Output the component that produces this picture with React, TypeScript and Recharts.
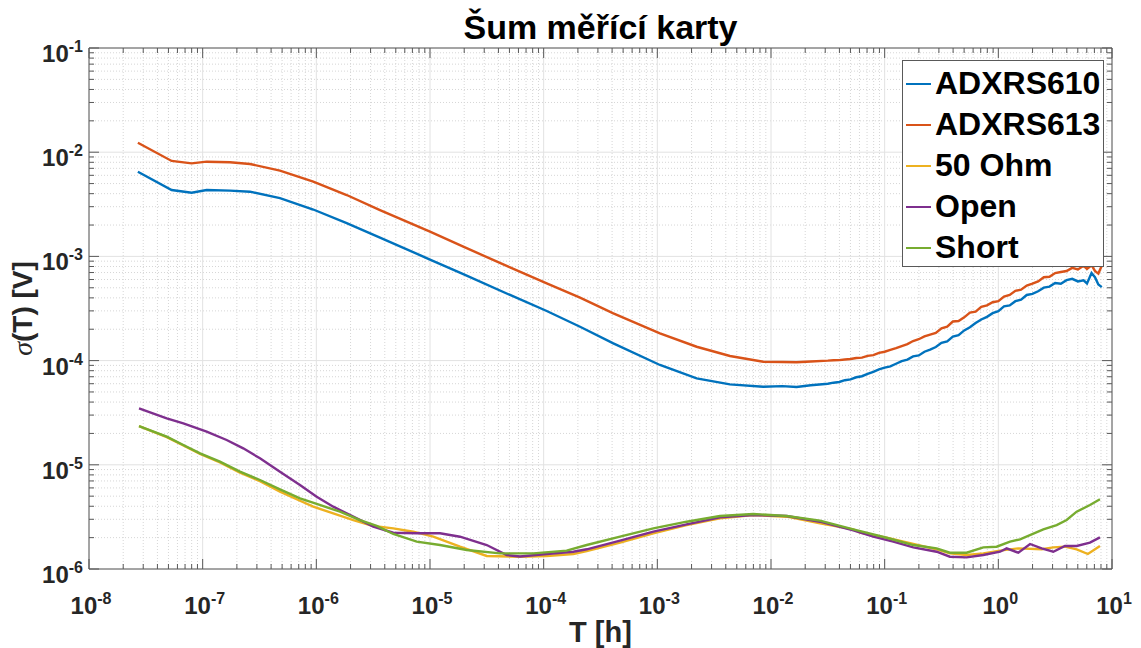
import React from 'react';
import { LineChart, Line, XAxis, YAxis, CartesianGrid, ReferenceArea } from 'recharts';

// ---------- data (log10 of T [h] and log10 of sigma [V]) ----------
const adxrs610LogT = [-7.57, -7.273, -7.097, -6.965, -6.76, -6.584, -6.32, -6.027, -5.733, -5.44, -5.0, -4.707, -4.296, -3.973, -3.68, -3.387, -2.977, -2.654, -2.361, -2.068, -1.9, -1.775, -1.65, -1.5, -1.45, -1.4, -1.35, -1.3, -1.25, -1.2, -1.15, -1.1, -1.05, -1.0, -0.95, -0.9, -0.85, -0.8, -0.75, -0.7, -0.65, -0.6, -0.55, -0.5, -0.45, -0.4, -0.35, -0.3, -0.25, -0.2, -0.15, -0.1, -0.05, 0.0, 0.05, 0.1, 0.15, 0.2, 0.25, 0.3, 0.35, 0.4, 0.45, 0.5, 0.55, 0.6, 0.65, 0.7, 0.75, 0.78, 0.82, 0.85, 0.88, 0.91];
const adxrs610LogV = [-2.187, -2.363, -2.389, -2.363, -2.369, -2.379, -2.44, -2.55, -2.68, -2.82, -3.03, -3.17, -3.37, -3.524, -3.675, -3.834, -4.042, -4.17, -4.228, -4.251, -4.245, -4.253, -4.236, -4.222, -4.212, -4.205, -4.188, -4.18, -4.16, -4.15, -4.128, -4.108, -4.085, -4.068, -4.055, -4.03, -4.005, -3.99, -3.96, -3.95, -3.915, -3.895, -3.87, -3.83, -3.815, -3.77, -3.755, -3.71, -3.68, -3.64, -3.605, -3.58, -3.545, -3.525, -3.48, -3.47, -3.43, -3.415, -3.37, -3.36, -3.335, -3.3, -3.29, -3.255, -3.262, -3.228, -3.215, -3.24, -3.23, -3.26, -3.16, -3.2, -3.27, -3.295];

const adxrs613LogT = [-7.57, -7.273, -7.097, -6.965, -6.76, -6.584, -6.32, -6.027, -5.733, -5.44, -5.0, -4.707, -4.296, -3.973, -3.68, -3.387, -2.977, -2.654, -2.361, -2.068, -1.9, -1.775, -1.65, -1.5, -1.45, -1.4, -1.35, -1.3, -1.25, -1.2, -1.15, -1.1, -1.05, -1.0, -0.95, -0.9, -0.85, -0.8, -0.75, -0.7, -0.65, -0.6, -0.55, -0.5, -0.45, -0.4, -0.35, -0.3, -0.25, -0.2, -0.15, -0.1, -0.05, 0.0, 0.05, 0.1, 0.15, 0.2, 0.25, 0.3, 0.35, 0.4, 0.45, 0.5, 0.55, 0.6, 0.65, 0.7, 0.75, 0.78, 0.82, 0.85, 0.88, 0.91];
const adxrs613LogV = [-1.909, -2.084, -2.107, -2.091, -2.097, -2.113, -2.177, -2.283, -2.411, -2.555, -2.763, -2.907, -3.105, -3.258, -3.396, -3.546, -3.738, -3.867, -3.956, -4.011, -4.014, -4.016, -4.008, -4.0, -3.996, -3.995, -3.99, -3.985, -3.975, -3.972, -3.955, -3.948, -3.925, -3.915, -3.898, -3.88, -3.86, -3.842, -3.812, -3.795, -3.768, -3.75, -3.735, -3.69, -3.675, -3.625, -3.62, -3.585, -3.54, -3.53, -3.485, -3.47, -3.44, -3.43, -3.385, -3.37, -3.33, -3.32, -3.28, -3.262, -3.24, -3.2, -3.195, -3.16, -3.15, -3.14, -3.11, -3.125, -3.09, -3.12, -3.085, -3.14, -3.165, -3.09];

const ohm50LogT = [-7.56, -7.316, -7.17, -7.023, -6.848, -6.672, -6.496, -6.32, -6.144, -6.027, -5.851, -5.675, -5.499, -5.323, -5.147, -4.971, -4.736, -4.501, -4.208, -3.973, -3.739, -3.621, -3.328, -3.035, -2.742, -2.449, -2.156, -1.862, -1.569, -1.276, -1.217, -0.983, -0.748, -0.543, -0.426, -0.279, -0.132, 0.015, 0.176, 0.381, 0.484, 0.586, 0.689, 0.788, 0.894];
const ohm50LogV = [-4.628, -4.735, -4.815, -4.895, -4.978, -5.075, -5.158, -5.258, -5.345, -5.402, -5.466, -5.53, -5.587, -5.61, -5.642, -5.69, -5.786, -5.875, -5.882, -5.875, -5.856, -5.827, -5.747, -5.657, -5.578, -5.514, -5.482, -5.498, -5.562, -5.619, -5.651, -5.7, -5.76, -5.811, -5.85, -5.866, -5.85, -5.824, -5.802, -5.811, -5.792, -5.786, -5.811, -5.856, -5.779];

const openLogT = [-7.56, -7.316, -7.17, -6.965, -6.789, -6.643, -6.496, -6.32, -6.144, -5.997, -5.851, -5.675, -5.499, -5.323, -5.117, -4.912, -4.736, -4.501, -4.325, -4.208, -3.973, -3.739, -3.621, -3.328, -3.035, -2.742, -2.449, -2.156, -1.862, -1.569, -1.276, -1.1, -0.924, -0.748, -0.543, -0.426, -0.279, -0.132, 0.015, 0.073, 0.176, 0.279, 0.381, 0.484, 0.586, 0.689, 0.806, 0.894];
const openLogV = [-4.458, -4.554, -4.602, -4.682, -4.762, -4.842, -4.938, -5.066, -5.194, -5.306, -5.402, -5.498, -5.594, -5.652, -5.657, -5.657, -5.69, -5.77, -5.866, -5.88, -5.856, -5.834, -5.811, -5.728, -5.642, -5.571, -5.504, -5.482, -5.491, -5.546, -5.63, -5.69, -5.738, -5.792, -5.834, -5.882, -5.888, -5.866, -5.834, -5.802, -5.844, -5.76, -5.802, -5.834, -5.779, -5.779, -5.747, -5.696];

const shortLogT = [-7.56, -7.316, -7.17, -7.023, -6.848, -6.672, -6.496, -6.32, -6.144, -5.997, -5.792, -5.616, -5.469, -5.323, -5.117, -4.912, -4.677, -4.384, -4.091, -3.798, -3.621, -3.328, -3.035, -2.742, -2.449, -2.156, -1.862, -1.569, -1.276, -0.983, -0.748, -0.543, -0.426, -0.279, -0.132, -0.015, 0.103, 0.191, 0.396, 0.513, 0.601, 0.689, 0.806, 0.894];
const shortLogV = [-4.628, -4.73, -4.81, -4.89, -4.97, -5.066, -5.146, -5.235, -5.322, -5.376, -5.45, -5.53, -5.587, -5.664, -5.738, -5.77, -5.818, -5.85, -5.85, -5.824, -5.77, -5.69, -5.61, -5.546, -5.491, -5.472, -5.491, -5.536, -5.619, -5.7, -5.77, -5.802, -5.844, -5.844, -5.792, -5.786, -5.738, -5.715, -5.619, -5.578, -5.53, -5.45, -5.386, -5.331];

const seriesNames = ['ADXRS610', 'ADXRS613', '50 Ohm', 'Open', 'Short'];
const seriesColors = ['#0072BD', '#D95319', '#EDB120', '#7E2F8E', '#77AC30'];

// axis decades (exponents) and minor multipliers
const xDecades = [-8, -7, -6, -5, -4, -3, -2, -1, 0, 1];
const yDecades = [-6, -5, -4, -3, -2, -1];
const minorMult = [2, 3, 4, 5, 6, 7, 8, 9];

const toPoints = (lt: number[], lv: number[]) => lt.map((x, i) => ({ t: Math.pow(10, x), v: Math.pow(10, lv[i]) }));
const seriesData = [
  toPoints(adxrs610LogT, adxrs610LogV),
  toPoints(adxrs613LogT, adxrs613LogV),
  toPoints(ohm50LogT, ohm50LogV),
  toPoints(openLogT, openLogV),
  toPoints(shortLogT, shortLogV),
];

const xMajor = xDecades.map((e) => Number(`1e${e}`));
const xMinor = xDecades.slice(0, -1).flatMap((e) => minorMult.map((m) => Number(`${m}e${e}`)));
const yMajor = yDecades.map((e) => Number(`1e${e}`));
const yMinor = yDecades.slice(0, -1).flatMap((e) => minorMult.map((m) => Number(`${m}e${e}`)));
const xTicks = [...xMajor, ...xMinor].sort((a, b) => a - b);
const yTicks = [...yMajor, ...yMinor].sort((a, b) => a - b);
const xMajorSet = new Set(xMajor);
const yMajorSet = new Set(yMajor);

// ---------- layout ----------
const W = 1133;
const H = 640;
const PL = 81;
const PT = 40;
const PR = 1104;
const PB = 561;
const FONT = '"Liberation Sans", Arial, Helvetica, sans-serif';
const AXIS = '#262626';
const BOX = '#595959';
const TICK_FS = 24;
const SUP_FS = 16;

const XTick = (props: any) => {
  const { x, payload } = props;
  const v = payload.value;
  const major = xMajorSet.has(v);
  const len = major ? 10 : 5;
  const e = Math.round(Math.log10(v));
  return (
    <g>
      <line x1={x} x2={x} y1={PB} y2={PB - len} stroke={BOX} strokeWidth={1} />
      <line x1={x} x2={x} y1={PT} y2={PT + len} stroke={BOX} strokeWidth={1} />
      {major && (
        <text x={x + 2} y={PB + 45} textAnchor="middle" fontFamily={FONT} fontWeight="bold" fontSize={TICK_FS} fill={AXIS}>
          10<tspan dy={-10} fontSize={SUP_FS}>{e}</tspan>
        </text>
      )}
    </g>
  );
};

const YTick = (props: any) => {
  const { y, payload } = props;
  const v = payload.value;
  const major = yMajorSet.has(v);
  const len = major ? 10 : 5;
  const e = Math.round(Math.log10(v));
  return (
    <g>
      <line x1={PL} x2={PL + len} y1={y} y2={y} stroke={BOX} strokeWidth={1} />
      <line x1={PR} x2={PR - len} y1={y} y2={y} stroke={BOX} strokeWidth={1} />
      {major && (
        <text x={PL - 6} y={y + 14} textAnchor="end" fontFamily={FONT} fontWeight="bold" fontSize={TICK_FS} fill={AXIS}>
          10<tspan dy={-10} fontSize={SUP_FS}>{e}</tspan>
        </text>
      )}
    </g>
  );
};

export default function App() {
  return (
    <div style={{ position: 'relative', width: W, height: H, background: '#fff' }}>
      <LineChart width={W} height={H} margin={{ top: PT, left: PL - 1, right: W - PR, bottom: H - PB - 1 }}>
        <CartesianGrid verticalValues={xMinor} horizontalValues={yMinor} stroke="#d6d6d6" strokeDasharray="1 2" />
        <CartesianGrid verticalValues={xMajor} horizontalValues={yMajor} stroke="#e2e2e2" />
        <XAxis
          dataKey="t"
          type="number"
          scale="log"
          domain={[1e-8, 10]}
          allowDataOverflow
          ticks={xTicks}
          interval={0}
          tick={<XTick />}
          tickLine={false}
          axisLine={false}
          tickSize={0}
          tickMargin={0}
          height={1}
        />
        <YAxis
          dataKey="v"
          type="number"
          scale="log"
          domain={[1e-6, 0.1]}
          allowDataOverflow
          ticks={yTicks}
          interval={0}
          tick={<YTick />}
          tickLine={false}
          axisLine={false}
          tickSize={0}
          tickMargin={0}
          width={1}
        />
        <ReferenceArea x1={1e-8} x2={10} y1={1e-6} y2={0.1} fill="none" stroke={BOX} strokeWidth={1} />
        {seriesData.map((d, i) => (
          <Line
            key={seriesNames[i]}
            data={d}
            dataKey="v"
            name={seriesNames[i]}
            type="linear"
            stroke={seriesColors[i]}
            strokeWidth={2.4}
            dot={false}
            activeDot={false}
            isAnimationActive={false}
          />
        ))}
      </LineChart>

      <svg width={W} height={H} style={{ position: 'absolute', left: 0, top: 0, pointerEvents: 'none', overflow: 'visible' }}>
        <text x={(PL + PR) / 2} y={31} textAnchor="middle" fontFamily={FONT} fontWeight="bold" fontSize={34} fill="#000">
          Šum měřící karty
        </text>
        <text x={(PL + PR) / 2} y={634} textAnchor="middle" fontFamily={FONT} fontWeight="bold" fontSize={29} fill={AXIS}>
          T [h]
        </text>
        <text
          transform={`translate(24, ${(PT + PB) / 2}) rotate(-90)`}
          textAnchor="middle"
          fontFamily={FONT}
          fontWeight="bold"
          fontSize={28}
          fill={AXIS}
        >
          <tspan fontFamily='"Liberation Serif", "DejaVu Serif", serif' fontStyle="italic" fontWeight="normal">σ</tspan>(T) [V]
        </text>
      </svg>

      <div
        style={{
          position: 'absolute',
          left: 894,
          top: 52,
          width: 202,
          height: 207,
          boxSizing: 'border-box',
          border: `1px solid ${BOX}`,
          background: '#fff',
          paddingTop: 2,
        }}
      >
        {seriesNames.map((n, i) => (
          <div key={n} style={{ display: 'flex', alignItems: 'center', height: 41 }}>
            <div style={{ width: 25, height: 2, marginLeft: 3, background: seriesColors[i] }} />
            <span
              style={{
                marginLeft: 4,
                fontFamily: FONT,
                fontWeight: 'bold',
                fontSize: 32,
                lineHeight: '41px',
                color: '#000',
                whiteSpace: 'nowrap',
              }}
            >
              {n}
            </span>
          </div>
        ))}
      </div>
    </div>
  );
}
